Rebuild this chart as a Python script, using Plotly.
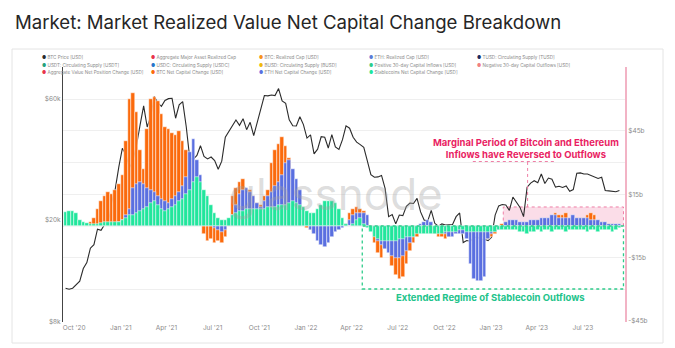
import pandas as pd
import plotly.graph_objects as go

# ---------------- data (weekly) ----------------
weeks = pd.date_range("2020-09-14", periods=157, freq="7D")

btc_price_k = [
    10.8, 10.7, 10.8, 11.1, 11.5, 12.9, 13.6, 15.5, 16.0, 18.4, 18.2, 19.2, 19.2, 23.5, 26.4, 32.2,
    38.2, 36.0, 32.0, 34.3, 39.3, 47.2, 56.0, 46.3, 51.0, 61.0, 57.5, 55.8, 58.8, 59.8, 60.0, 50.1,
    56.6, 58.2, 46.4, 34.7, 34.6, 35.8, 39.1, 35.5, 34.7, 35.3, 34.2, 31.6, 34.0, 42.2, 44.6, 47.1,
    49.3, 47.0, 49.9, 45.2, 48.3, 42.8, 48.2, 54.9, 61.5, 61.3, 61.8, 61.5, 65.5, 58.6, 57.3, 49.4,
    46.8, 46.7, 50.8, 47.3,
    41.9, 43.1, 36.3, 37.9, 42.4, 42.2, 38.3, 43.2, 38.7, 37.8, 41.3, 46.8, 45.8, 42.2, 40.4, 39.5,
    38.5, 34.1, 30.1, 29.4, 29.5, 29.9, 26.6, 20.6, 21.0, 19.3, 20.9, 20.8, 22.6, 23.3, 23.2, 24.3,
    21.5, 20.0, 19.8, 21.8, 19.4, 18.9, 19.3, 19.1, 19.2, 19.2, 20.6, 21.3, 16.3, 16.6, 16.5, 17.1,
    17.1, 16.8, 16.8, 16.6,
    17.1, 20.9, 22.7, 23.0, 22.9, 21.8, 24.6, 23.6, 22.4, 20.6, 26.9, 27.9, 28.5, 28.0, 30.3, 27.8,
    29.2, 28.9, 26.9, 27.1, 26.8, 27.2, 25.9, 26.3, 30.5, 30.6, 30.3, 30.3, 29.9, 29.3, 29.1, 29.4,
    26.1, 26.0, 25.9, 25.8, 26.1,
]

btc_net_change_b = [
    0, 0, 0, 0, 0, 0, 0.5, 2, 4, 8, 12, 14, 16, 15, 17, 20,
    24, 40, 60, 63, 54, 36, 27, 46, 60, 61, 59, 53, 47, 46, 44, 43,
    45, 40, 36, 31, 22, 10, 2, -4, -7, -6, -8, -7, -8, -5, 2, 14,
    18, 21, 22, 16, 17, 14, 11, 10, 14, 17, 30, 36, 39, 42, 38, 32,
    20, 8, 3, 0, -1, -2, -3, -3, -2, -2, -1, 0, 1, 0, 0, 1,
    6, 8, 9, 8, 7, 3, -2, -8, -13, -15, -11, -8, -19, -23, -25, -24,
    -18, -12, -8, -5, -3, -2, -2, -3, -4, -5, -5, -6, -5, -4, -3, -2,
    -1, -2, -3, -3, -4, -5, -6, -6, -5, -4, -2, 1, 2, 2, 2, 1,
    1, 0, 1, 2, 2, 3, 3, 3, 4, 4, 6, 5, 5, 6, 4, 4,
    4, 4, 4, 5, 6, 5, 3, 2, 1, 1, 1, 0, 0,
]

eth_net_change_b = [
    0, 0, 0, 0, 0, 0, 0, 0, 0, 0, 0, 0, 0, 1, 1, 2,
    3, 5, 8, 18, 20, 21, 20, 18, 17, 16, 14, 13, 12, 11, 13, 14,
    16, 19, 23, 35, 41, 31, 24, 14, 7, 2, -1, -2, -3, -2, 1, 5,
    10, 15, 17, 18, 16, 14, 11, 9, 12, 14, 16, 19, 21, 24, 30, 31,
    27, 22, 17, 8, 2, -2, -4, -7, -9, -10, -8, -5, -3, -2, -1, 1,
    3, 5, 6, 6, 6, 5, -1, -4, -7, -9, -11, -13, -14, -15, -15, -14,
    -12, -8, -5, -2, 1, 2, 3, 2, 0, -2, -3, -4, -5, -5, -4, -4,
    -4, -6, -18, -25, -26, -26, -24, -6, -4, -3, -2, 0, 2, 3, 3, 3,
    2, 2, 2, 3, 3, 3, 4, 4, 4, 5, 5, 4, 4, 4, 4, 5,
    4, 4, 4, 4, 3, 3, 3, 2, 2, 1, 1, 1, 1,
]

stable_net_change_b = [
    6.5, 7, 7, 6, 3, 2, 1.5, 1, 1, 1, 1.5, 2, 2, 2, 2, 2,
    3, 4, 5, 5, 6, 7, 8, 9, 11, 12, 10, 8, 7, 8, 9, 10,
    12, 13, 15, 17, 21, 23, 21, 17, 14, 10, 6, 4, 3, 3, 4, 5,
    6, 7, 7, 8, 8, 8, 8, 8, 8, 9, 9, 9, 10, 10, 10, 11,
    12, 11, 10, 9, 7, 6, 6, 8, 10, 12, 12, 12, 11, 8, 4, 1,
    0, 1, 3, 4, 1, -1, -3, -5, -6, -7, -7, -7, -7, -7, -6, -6,
    -5, -5, -5, -4, -4, -4, -4, -4, -4, -4, -4, -3, -3, -3, -3, -2,
    -2, -3, -3, -3, -3, -3, -3, -3, -3, -3, -2, -2, -2, -2, -2, -2,
    -3, -3, -4, -3, -3, -2, -3, -2, -2, -3, -2, -2, -2, -3, -2, -2,
    -2, -2, -2, -3, -2, -2, -3, -2, -2, -2, -3, -2, -1,
]

legend_labels = [
    "BTC Price [USD]", "Aggregate Major Asset Realized Cap", "BTC: Realized Cap [USD]",
    "ETH: Realized Cap [USD]", "TUSD: Circulating Supply [TUSD]",
    "USDT: Circulating Supply [USDT]", "USDC: Circulating Supply [USDC]",
    "BUSD: Circulating Supply [BUSD]", "Positive 30-day Capital Inflows [USD]",
    "Negative 30-day Capital Outflows [USD]",
    "Aggregate Value Net Position Change [USD]", "BTC Net Capital Change [USD]",
    "ETH Net Capital Change [USD]", "Stablecoins Net Capital Change [USD]",
]
legend_colors = [
    "#2b2b2b", "#e8334a", "#f7931a", "#5b7bd6", "#1c2b5e",
    "#26a17b", "#2775ca", "#f0b90b", "#2ecc8a", "#f08080",
    "#e8334a", "#fb6a0c", "#5a6fe0", "#21e69c",
]

left_tickvals = [8000, 20000, 60000]
left_ticktext = ["$8k", "$20k", "$60k"]
right_tickvals = [-45, -30, -15, 0, 15, 30, 45, 60, 75]
right_ticktext = ["-$45b", "", "-$15b", "", "$15b", "", "$45b", "", ""]

# ---------------- figure ----------------
W, H = 675, 348
L, R, T, B = 63, 625, 67, 322


def px(x):
    return (x - L) / (R - L)


def py(y):
    return (B - y) / (B - T)


ORANGE = "#fb6a0c"
BLUE = "#5a6fe0"
GREEN = "#21e69c"
BAR_EDGE = dict(color="white", width=0.5)

fig = go.Figure()
fig.add_trace(go.Scatter(
    x=weeks, y=[p * 1000 for p in btc_price_k], mode="lines",
    line=dict(color="#2b2b2b", width=1.1), yaxis="y", showlegend=False,
))
fig.add_trace(go.Bar(x=weeks, y=btc_net_change_b, marker=dict(color=ORANGE, line=BAR_EDGE),
                     yaxis="y2", showlegend=False))
fig.add_trace(go.Bar(x=weeks, y=eth_net_change_b, marker=dict(color=BLUE, line=BAR_EDGE),
                     yaxis="y2", showlegend=False))
fig.add_trace(go.Bar(x=weeks, y=stable_net_change_b, marker=dict(color=GREEN, line=BAR_EDGE),
                     yaxis="y2", showlegend=False))

annotations = []
annotations.append(dict(
    text="Market: Market Realized Value Net Capital Change Breakdown",
    xref="paper", yref="paper", x=px(13), y=py(22), xanchor="left", yanchor="middle",
    showarrow=False, font=dict(family="Inter", size=18.6, color="#262626"),
))
col_x = [40, 149, 257, 367, 475]
row_y = [58, 65, 72]
for k, (lab, col) in enumerate(zip(legend_labels, legend_colors)):
    r, c = divmod(k, 5)
    annotations.append(dict(
        text=f'<span style="color:{col}">●</span> {lab}',
        xref="paper", yref="paper", x=px(col_x[c]), y=py(row_y[r]),
        xanchor="left", yanchor="middle", showarrow=False,
        font=dict(family="Inter", size=4.6, color="#8a8a8a"),
    ))
annotations.append(dict(
    text="glassnode", xref="paper", yref="paper", x=px(336), y=py(194),
    xanchor="center", yanchor="middle", showarrow=False,
    font=dict(family="Inter", size=44, color="rgba(160,160,160,0.36)"),
))
annotations.append(dict(
    text="<b>Marginal Period of Bitcoin and Ethereum<br>Inflows have Reversed to Outflows</b>",
    xref="paper", yref="paper", x=px(526), y=py(148), xanchor="center", yanchor="middle",
    showarrow=False, align="center",
    font=dict(family="Inter", size=9.5, color="#e91e63"),
))
annotations.append(dict(
    text="<b>Extended Regime of Stablecoin Outflows</b>",
    xref="paper", yref="paper", x=px(490), y=py(298), xanchor="center", yanchor="middle",
    showarrow=False, font=dict(family="Inter", size=9.5, color="#22c38b"),
))

shapes = [
    dict(type="rect", xref="paper", yref="paper", x0=px(12), x1=px(663), y0=py(343), y1=py(49),
         line=dict(color="#e4e4e4", width=1), layer="below"),
    dict(type="rect", xref="x", yref="y2", x0="2023-01-25", x1="2023-09-19", y0=0, y1=9,
         fillcolor="rgba(242,150,185,0.32)", line=dict(color="#ef7fa6", width=1, dash="dot"),
         layer="below"),
    dict(type="line", xref="x", yref="y2", x0="2023-03-14", x1="2023-03-14", y0=9, y1=30.5,
         line=dict(color="#ef7fa6", width=1, dash="dot")),
    dict(type="line", xref="x", yref="y2", x0="2022-11-26", x1="2023-05-10", y0=30.5, y1=30.5,
         line=dict(color="#ef7fa6", width=1, dash="dot")),
    dict(type="rect", xref="x", yref="y2", x0="2022-04-22", x1="2023-09-19", y0=-29.8, y1=0,
         line=dict(color="#2ecc8a", width=1.3, dash="dot")),
]

fig.update_layout(
    width=W, height=H,
    margin=dict(l=L, r=W - R, t=T, b=H - B),
    paper_bgcolor="white", plot_bgcolor="white",
    barmode="overlay", bargap=0,
    showlegend=False,
    font=dict(family="Inter", color="#888888"),
    xaxis=dict(
        type="date", range=["2020-09-09", "2023-09-22"],
        tickformat="%b '%y", dtick="M3", tick0="2020-10-01",
        showgrid=False, zeroline=False, showline=False, ticks="",
        tickfont=dict(size=6.5, color="#8a8a8a"),
    ),
    yaxis=dict(
        type="log", range=[3.9008, 4.9008],
        tickvals=left_tickvals, ticktext=left_ticktext,
        showgrid=False, zeroline=False, showline=True, linecolor="#444444", linewidth=1,
        ticks="", tickfont=dict(size=6.5, color="#8a8a8a"),
    ),
    yaxis2=dict(
        overlaying="y", side="right", range=[-45.4, 75.2],
        tickvals=right_tickvals, ticktext=right_ticktext,
        showgrid=True, gridcolor="#efefef", gridwidth=1,
        zeroline=False, showline=True, linecolor="#f2b3c5", linewidth=2,
        ticks="", tickfont=dict(size=6.5, color="#8a8a8a"),
    ),
    annotations=annotations,
    shapes=shapes,
)

fig.write_html("out.html")
